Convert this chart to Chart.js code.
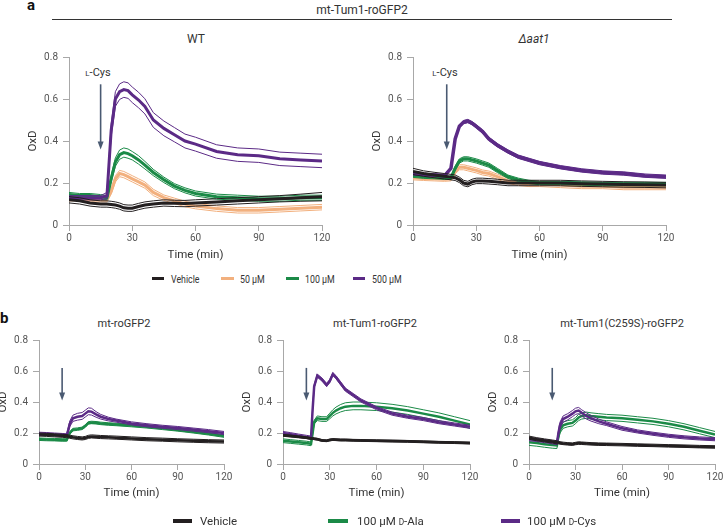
<!DOCTYPE html>
<html>
<head>
<meta charset="utf-8">
<script src="https://cdn.jsdelivr.net/npm/chart.js@4.4.1/dist/chart.umd.min.js"></script>
<style>
  body { margin: 0; background: #fff; }
  #fig { position: relative; width: 723px; height: 527px; overflow: hidden; font-family: Roboto, sans-serif; color: #333; }
  #fig canvas { position: absolute; }
  .t { position: absolute; white-space: nowrap; transform: translate(-50%, -50%); }
  .lab { position: absolute; font-weight: bold; font-size: 15px; color: #111; }
  .sw { position: absolute; }
  .lg { position: absolute; white-space: nowrap; transform: translateY(-50%); }
  .sc { font-size: 0.72em; }
</style>
</head>
<body>
<div id="fig">
  <div class="lab" style="left:27px;top:-4px">a</div>
  <div class="t" style="left:362px;top:10px;font-size:12px">mt-Tum1-roGFP2</div>
  <div style="position:absolute;left:52px;top:19px;width:620px;height:1px;background:#333"></div>
  <div class="t" style="left:196px;top:39px;font-size:12px">WT</div>
  <div class="t" style="left:534px;top:39px;font-size:12px;font-style:italic">Δaat1</div>
  <div class="t" style="left:98px;top:72px;font-size:11px"><span class="sc">L</span>-Cys</div>
  <div class="t" style="left:445px;top:72px;font-size:11px"><span class="sc">L</span>-Cys</div>

  <canvas id="wt"></canvas>
  <canvas id="aat1"></canvas>

  <div class="sw" style="left:152px;top:277px;width:12px;height:3px;background:#231f20"></div>
  <div class="lg" style="left:171px;top:279px;font-size:11px;transform:translateY(-50%) scaleX(0.8);transform-origin:left">Vehicle</div>
  <div class="sw" style="left:221px;top:277px;width:13px;height:3px;background:#f2b07e"></div>
  <div class="lg" style="left:240px;top:279px;font-size:11px;transform:translateY(-50%) scaleX(0.8);transform-origin:left">50 µM</div>
  <div class="sw" style="left:286px;top:277px;width:13px;height:3px;background:#1b8a47"></div>
  <div class="lg" style="left:305px;top:279px;font-size:11px;transform:translateY(-50%) scaleX(0.8);transform-origin:left">100 µM</div>
  <div class="sw" style="left:353px;top:277px;width:12px;height:3px;background:#5b2a86"></div>
  <div class="lg" style="left:372px;top:279px;font-size:11px;transform:translateY(-50%) scaleX(0.8);transform-origin:left">500 µM</div>

  <div class="lab" style="left:0px;top:309px">b</div>
  <div class="t" style="left:124px;top:323px;font-size:11px">mt-roGFP2</div>
  <div class="t" style="left:375px;top:323px;font-size:11px">mt-Tum1-roGFP2</div>
  <div class="t" style="left:622px;top:323px;font-size:11px">mt-Tum1(C259S)-roGFP2</div>

  <canvas id="b1"></canvas>
  <canvas id="b2"></canvas>
  <canvas id="b3"></canvas>

  <div class="sw" style="left:173px;top:519px;width:19px;height:4px;background:#231f20"></div>
  <div class="lg" style="left:200px;top:521px;font-size:11.5px">Vehicle</div>
  <div class="sw" style="left:328px;top:519px;width:20px;height:4px;background:#1b8a47"></div>
  <div class="lg" style="left:357px;top:521px;font-size:11.5px">100 µM <span class="sc">D</span>-Ala</div>
  <div class="sw" style="left:501px;top:519px;width:19px;height:4px;background:#5b2a86"></div>
  <div class="lg" style="left:527px;top:521px;font-size:11.5px">100 µM <span class="sc">D</span>-Cys</div>
</div>

<script>
// ======== DATA ========
// panel a time points (min)
const timeA = [0, 5, 10, 15, 18, 20, 22, 24, 26, 28, 30, 33, 36, 40, 45, 50, 55, 60, 70, 80, 90, 100, 110, 120];

// WT
const wtVehicle    = [0.12, 0.115, 0.105, 0.1, 0.1, 0.098, 0.095, 0.09, 0.082, 0.08, 0.08, 0.088, 0.095, 0.1, 0.105, 0.103, 0.102, 0.105, 0.11, 0.115, 0.12, 0.125, 0.13, 0.135];
const wtVehicleSem = [0.015, 0.015, 0.015, 0.015, 0.015, 0.015, 0.015, 0.015, 0.015, 0.015, 0.015, 0.015, 0.015, 0.015, 0.015, 0.015, 0.015, 0.015, 0.015, 0.015, 0.015, 0.015, 0.017, 0.02];
const wt50         = [0.125, 0.125, 0.12, 0.12, 0.12, 0.16, 0.22, 0.245, 0.24, 0.23, 0.22, 0.205, 0.19, 0.155, 0.13, 0.115, 0.1, 0.09, 0.078, 0.07, 0.07, 0.075, 0.08, 0.085];
const wt50Sem      = [0.01, 0.01, 0.01, 0.01, 0.01, 0.012, 0.015, 0.015, 0.015, 0.015, 0.015, 0.015, 0.015, 0.015, 0.013, 0.013, 0.013, 0.013, 0.013, 0.013, 0.013, 0.013, 0.013, 0.013];
const wt100        = [0.145, 0.14, 0.14, 0.135, 0.13, 0.22, 0.3, 0.335, 0.345, 0.34, 0.33, 0.31, 0.285, 0.25, 0.215, 0.185, 0.165, 0.15, 0.135, 0.13, 0.125, 0.125, 0.13, 0.13];
const wt100Sem     = [0.01, 0.01, 0.01, 0.01, 0.01, 0.015, 0.02, 0.022, 0.022, 0.022, 0.02, 0.02, 0.018, 0.015, 0.013, 0.012, 0.012, 0.012, 0.012, 0.012, 0.012, 0.012, 0.012, 0.012];
const wt500        = [0.13, 0.13, 0.13, 0.13, 0.14, 0.45, 0.6, 0.635, 0.645, 0.64, 0.62, 0.595, 0.565, 0.5, 0.46, 0.43, 0.4, 0.385, 0.35, 0.335, 0.33, 0.315, 0.31, 0.305];
const wt500Sem     = [0.01, 0.01, 0.01, 0.01, 0.015, 0.03, 0.035, 0.037, 0.037, 0.037, 0.037, 0.037, 0.036, 0.035, 0.035, 0.034, 0.033, 0.033, 0.032, 0.032, 0.032, 0.032, 0.032, 0.032];

// Δaat1
const akVehicle    = [0.255, 0.245, 0.238, 0.232, 0.228, 0.225, 0.215, 0.2, 0.195, 0.205, 0.21, 0.21, 0.208, 0.205, 0.2, 0.2, 0.2, 0.2, 0.2, 0.197, 0.195, 0.193, 0.192, 0.19];
const akVehicleSem = [0.015, 0.013, 0.013, 0.013, 0.013, 0.013, 0.013, 0.013, 0.013, 0.013, 0.013, 0.013, 0.013, 0.013, 0.013, 0.013, 0.013, 0.013, 0.013, 0.013, 0.013, 0.013, 0.013, 0.013];
const ak50         = [0.225, 0.222, 0.22, 0.218, 0.22, 0.255, 0.275, 0.275, 0.27, 0.265, 0.26, 0.25, 0.245, 0.23, 0.21, 0.2, 0.195, 0.195, 0.19, 0.185, 0.185, 0.18, 0.18, 0.18];
const ak50Sem      = [0.01, 0.01, 0.01, 0.01, 0.01, 0.012, 0.012, 0.012, 0.012, 0.012, 0.012, 0.012, 0.012, 0.012, 0.012, 0.012, 0.012, 0.012, 0.012, 0.012, 0.012, 0.012, 0.012, 0.012];
const ak100        = [0.235, 0.23, 0.228, 0.225, 0.225, 0.27, 0.305, 0.315, 0.315, 0.31, 0.305, 0.295, 0.285, 0.26, 0.23, 0.215, 0.205, 0.2, 0.2, 0.198, 0.195, 0.195, 0.195, 0.195];
const ak100Sem     = [0.008, 0.008, 0.008, 0.008, 0.008, 0.01, 0.01, 0.01, 0.01, 0.01, 0.01, 0.01, 0.01, 0.01, 0.008, 0.008, 0.008, 0.008, 0.008, 0.008, 0.008, 0.008, 0.008, 0.008];
const ak500        = [0.245, 0.24, 0.238, 0.235, 0.27, 0.41, 0.47, 0.49, 0.495, 0.485, 0.47, 0.445, 0.41, 0.38, 0.35, 0.325, 0.31, 0.295, 0.275, 0.26, 0.25, 0.245, 0.235, 0.23];
const ak500Sem     = [0.006, 0.006, 0.006, 0.006, 0.006, 0.008, 0.008, 0.008, 0.008, 0.008, 0.008, 0.008, 0.008, 0.008, 0.008, 0.008, 0.008, 0.008, 0.008, 0.008, 0.008, 0.008, 0.008, 0.008];

// panel b time points (min)
const timeB = [0, 5, 10, 15, 18, 19, 20, 22, 25, 28, 30, 32, 34, 37, 40, 45, 50, 60, 70, 80, 90, 100, 110, 120];

// mt-roGFP2
const r1Vehicle    = [0.19, 0.188, 0.185, 0.182, 0.18, 0.178, 0.176, 0.172, 0.168, 0.165, 0.168, 0.175, 0.178, 0.176, 0.174, 0.172, 0.17, 0.165, 0.16, 0.157, 0.153, 0.15, 0.147, 0.145];
const r1VehicleSem = [0.01, 0.01, 0.01, 0.01, 0.01, 0.01, 0.01, 0.01, 0.01, 0.01, 0.01, 0.01, 0.01, 0.01, 0.01, 0.01, 0.01, 0.01, 0.01, 0.01, 0.01, 0.01, 0.01, 0.01];
const r1Ala        = [0.16, 0.158, 0.157, 0.155, 0.155, 0.18, 0.2, 0.222, 0.225, 0.23, 0.245, 0.265, 0.268, 0.266, 0.262, 0.258, 0.255, 0.248, 0.24, 0.23, 0.22, 0.208, 0.195, 0.18];
const r1AlaSem     = [0.008, 0.008, 0.008, 0.008, 0.008, 0.008, 0.008, 0.008, 0.008, 0.008, 0.008, 0.008, 0.008, 0.008, 0.008, 0.008, 0.008, 0.008, 0.008, 0.008, 0.008, 0.008, 0.008, 0.008];
const r1Cys        = [0.195, 0.193, 0.19, 0.187, 0.185, 0.22, 0.26, 0.295, 0.305, 0.31, 0.325, 0.34, 0.338, 0.32, 0.305, 0.29, 0.28, 0.262, 0.25, 0.24, 0.232, 0.222, 0.212, 0.2];
const r1CysSem     = [0.01, 0.01, 0.01, 0.01, 0.01, 0.015, 0.018, 0.02, 0.022, 0.022, 0.022, 0.022, 0.022, 0.018, 0.015, 0.012, 0.01, 0.01, 0.01, 0.01, 0.01, 0.01, 0.01, 0.01];

// mt-Tum1-roGFP2
const r2Vehicle    = [0.185, 0.18, 0.175, 0.17, 0.165, 0.165, 0.163, 0.16, 0.152, 0.15, 0.155, 0.158, 0.157, 0.155, 0.155, 0.153, 0.152, 0.15, 0.148, 0.146, 0.143, 0.14, 0.138, 0.135];
const r2VehicleSem = [0.006, 0.006, 0.006, 0.006, 0.006, 0.006, 0.006, 0.006, 0.006, 0.006, 0.006, 0.006, 0.006, 0.006, 0.006, 0.006, 0.006, 0.006, 0.006, 0.006, 0.006, 0.006, 0.006, 0.006];
const r2Ala        = [0.15, 0.145, 0.14, 0.135, 0.13, 0.2, 0.27, 0.295, 0.29, 0.29, 0.31, 0.33, 0.345, 0.36, 0.37, 0.375, 0.375, 0.37, 0.36, 0.345, 0.325, 0.305, 0.28, 0.255];
const r2AlaSem     = [0.012, 0.012, 0.012, 0.012, 0.012, 0.012, 0.012, 0.015, 0.015, 0.015, 0.018, 0.02, 0.022, 0.024, 0.025, 0.025, 0.025, 0.025, 0.025, 0.025, 0.025, 0.025, 0.025, 0.025];
const r2Cys        = [0.2, 0.192, 0.183, 0.175, 0.17, 0.35, 0.5, 0.57, 0.545, 0.51, 0.535, 0.58, 0.56, 0.52, 0.48, 0.445, 0.41, 0.36, 0.325, 0.305, 0.29, 0.27, 0.255, 0.24];
const r2CysSem     = [0.01, 0.01, 0.01, 0.01, 0.01, 0.01, 0.01, 0.01, 0.01, 0.01, 0.01, 0.01, 0.01, 0.01, 0.01, 0.01, 0.01, 0.01, 0.01, 0.01, 0.01, 0.01, 0.01, 0.01];

// mt-Tum1(C259S)-roGFP2
const r3Vehicle    = [0.17, 0.16, 0.152, 0.145, 0.14, 0.138, 0.136, 0.133, 0.13, 0.128, 0.132, 0.135, 0.134, 0.132, 0.13, 0.128, 0.127, 0.125, 0.122, 0.12, 0.117, 0.115, 0.112, 0.11];
const r3VehicleSem = [0.01, 0.01, 0.01, 0.01, 0.01, 0.008, 0.008, 0.008, 0.008, 0.008, 0.008, 0.008, 0.008, 0.008, 0.008, 0.008, 0.008, 0.008, 0.008, 0.008, 0.008, 0.008, 0.008, 0.008];
const r3Ala        = [0.14, 0.135, 0.128, 0.122, 0.12, 0.18, 0.22, 0.25, 0.26, 0.265, 0.28, 0.3, 0.31, 0.315, 0.31, 0.305, 0.3, 0.295, 0.285, 0.275, 0.26, 0.24, 0.215, 0.19];
const r3AlaSem     = [0.02, 0.02, 0.02, 0.02, 0.02, 0.02, 0.02, 0.02, 0.02, 0.02, 0.02, 0.02, 0.02, 0.02, 0.02, 0.02, 0.02, 0.02, 0.02, 0.02, 0.02, 0.02, 0.02, 0.02];
const r3Cys        = [0.16, 0.155, 0.148, 0.14, 0.135, 0.2, 0.25, 0.29, 0.305, 0.325, 0.34, 0.345, 0.33, 0.31, 0.295, 0.275, 0.26, 0.23, 0.21, 0.195, 0.182, 0.172, 0.165, 0.16];
const r3CysSem     = [0.01, 0.01, 0.01, 0.01, 0.01, 0.015, 0.02, 0.02, 0.02, 0.02, 0.02, 0.02, 0.02, 0.02, 0.018, 0.015, 0.012, 0.012, 0.01, 0.01, 0.01, 0.01, 0.01, 0.01];

const xTicks = [0, 30, 60, 90, 120];
const yTicks = [0, 0.2, 0.4, 0.6, 0.8];

// ======== STYLE ========
const COLORS = { vehicle: '#231f20', c50: '#f2b07e', c100: '#1b8a47', c500: '#5b2a86' };
const AXIS = '#a8a8a8';
const TICK_TEXT = '#555';
const FONT = 'Roboto, sans-serif';

// arrow marking the addition, drawn on the chart scales
const arrowPlugin = {
    id: 'addArrow',
    afterDatasetsDraw(chart, args, opts) {
        const { ctx, scales: { x, y } } = chart;
        const px = x.getPixelForValue(opts.at);
        const y1 = y.getPixelForValue(opts.from);
        const y2 = y.getPixelForValue(opts.to);
        ctx.save();
        ctx.strokeStyle = '#4a5a72';
        ctx.fillStyle = '#4a5a72';
        ctx.lineWidth = 1.6;
        ctx.beginPath();
        ctx.moveTo(px, y1);
        ctx.lineTo(px, y2 - 6);
        ctx.stroke();
        ctx.beginPath();
        ctx.moveTo(px - 3, y2 - 8);
        ctx.lineTo(px + 3, y2 - 8);
        ctx.lineTo(px, y2);
        ctx.closePath();
        ctx.fill();
        ctx.restore();
    }
};

function seriesDatasets(time, mean, sem, color, rank, thick) {
    const pts = arr => arr.map((v, i) => ({ x: time[i], y: v }));
    const base = { pointRadius: 0, borderColor: color, tension: 0, fill: false };
    return [
        { ...base, data: pts(mean), borderWidth: thick, order: rank * 2 },
        { ...base, data: pts(mean.map((v, i) => v + sem[i])), borderWidth: 1, order: rank * 2 + 1 },
        { ...base, data: pts(mean.map((v, i) => v - sem[i])), borderWidth: 1, order: rank * 2 + 1 },
    ];
}

function makeChart(id, left, top, width, height, xAxisH, datasets, arrow) {
    const canvas = document.getElementById(id);
    canvas.width = width;
    canvas.height = height;
    canvas.style.left = left + 'px';
    canvas.style.top = top + 'px';

    return new Chart(canvas, {
        type: 'line',
        data: { datasets },
        plugins: [arrowPlugin],
        options: {
            responsive: false,
            animation: false,
            layout: { padding: { left: 22, top: 12, right: 15, bottom: 0 } },
            plugins: {
                legend: { display: false },
                tooltip: { enabled: false },
                addArrow: arrow,
            },
            scales: {
                x: {
                    type: 'linear',
                    min: 0,
                    max: 120,
                    afterFit: s => { s.height = xAxisH; },
                    afterBuildTicks: s => { s.ticks = xTicks.map(v => ({ value: v })); },
                    grid: { drawOnChartArea: false, tickLength: 6, color: AXIS },
                    border: { color: AXIS },
                    ticks: { padding: 1, color: TICK_TEXT, font: { family: FONT, size: 10 } },
                    title: { display: true, text: 'Time (min)', color: '#333', padding: 0, font: { family: FONT, size: 11.5 } },
                },
                y: {
                    min: 0,
                    max: 0.8,
                    afterFit: s => { s.width = 47; },
                    afterBuildTicks: s => { s.ticks = yTicks.map(v => ({ value: v })); },
                    grid: { drawOnChartArea: false, tickLength: 6, color: AXIS },
                    border: { color: AXIS },
                    ticks: { padding: 5, color: TICK_TEXT, font: { family: FONT, size: 10 } },
                    title: { display: true, text: 'OxD', color: '#333', padding: { top: 4, bottom: 0 }, font: { family: FONT, size: 11.5 } },
                },
            },
        },
    });
}

// ======== CHARTS ========
makeChart('wt', 0, 45, 337, 217, 37, [
    ...seriesDatasets(timeA, wtVehicle, wtVehicleSem, COLORS.vehicle, 0, 3),
    ...seriesDatasets(timeA, wt500, wt500Sem, COLORS.c500, 1, 3),
    ...seriesDatasets(timeA, wt100, wt100Sem, COLORS.c100, 2, 3),
    ...seriesDatasets(timeA, wt50, wt50Sem, COLORS.c50, 3, 3),
], { at: 15, from: 0.67, to: 0.36 });

makeChart('aat1', 344, 45, 337, 217, 37, [
    ...seriesDatasets(timeA, akVehicle, akVehicleSem, COLORS.vehicle, 0, 3),
    ...seriesDatasets(timeA, ak500, ak500Sem, COLORS.c500, 1, 3.5),
    ...seriesDatasets(timeA, ak100, ak100Sem, COLORS.c100, 2, 3),
    ...seriesDatasets(timeA, ak50, ak50Sem, COLORS.c50, 3, 3),
], { at: 16, from: 0.67, to: 0.36 });

makeChart('b1', -30, 328, 269, 172, 36, [
    ...seriesDatasets(timeB, r1Vehicle, r1VehicleSem, COLORS.vehicle, 0, 2.5),
    ...seriesDatasets(timeB, r1Cys, r1CysSem, COLORS.c500, 1, 2.5),
    ...seriesDatasets(timeB, r1Ala, r1AlaSem, COLORS.c100, 2, 2.5),
], { at: 15, from: 0.62, to: 0.41 });

makeChart('b2', 214, 328, 271, 172, 36, [
    ...seriesDatasets(timeB, r2Vehicle, r2VehicleSem, COLORS.vehicle, 0, 2.5),
    ...seriesDatasets(timeB, r2Cys, r2CysSem, COLORS.c500, 1, 2.5),
    ...seriesDatasets(timeB, r2Ala, r2AlaSem, COLORS.c100, 2, 2.5),
], { at: 15, from: 0.62, to: 0.41 });

makeChart('b3', 460, 328, 270, 172, 36, [
    ...seriesDatasets(timeB, r3Vehicle, r3VehicleSem, COLORS.vehicle, 0, 2.5),
    ...seriesDatasets(timeB, r3Cys, r3CysSem, COLORS.c500, 1, 2.5),
    ...seriesDatasets(timeB, r3Ala, r3AlaSem, COLORS.c100, 2, 2.5),
], { at: 15, from: 0.62, to: 0.41 });
</script>
</body>
</html>
